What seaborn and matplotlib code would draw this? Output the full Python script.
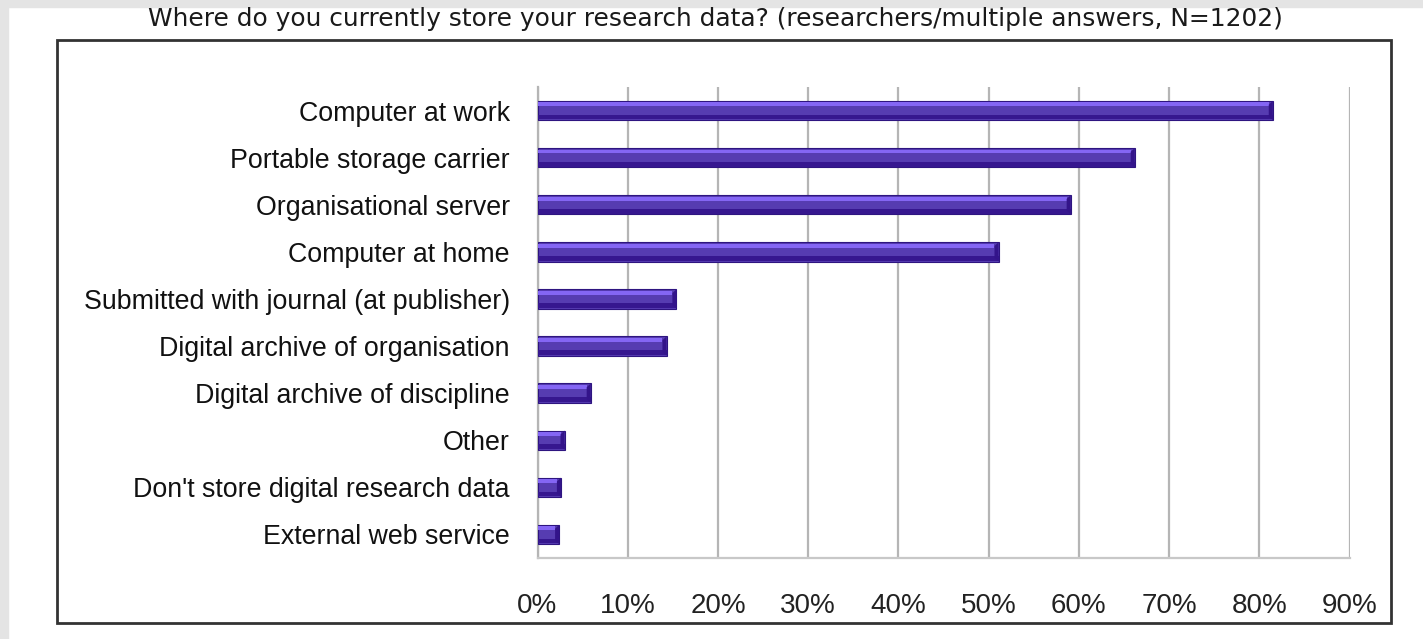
import matplotlib
matplotlib.use("Agg")
import matplotlib.pyplot as plt
from matplotlib.patches import Rectangle, Polygon
import seaborn as sns
import pandas as pd

# data (percent of researchers)
categories = [
    "Computer at work",
    "Portable storage carrier",
    "Organisational server",
    "Computer at home",
    "Submitted with journal (at publisher)",
    "Digital archive of organisation",
    "Digital archive of discipline",
    "Other",
    "Don't store digital research data",
    "External web service",
]
shares = [81.5, 66.2, 59.1, 51.1, 15.4, 14.3, 5.9, 3.0, 2.6, 2.4]
tick_values = [0, 10, 20, 30, 40, 50, 60, 70, 80, 90]
tick_labels = [f"{v}%" for v in tick_values]
title = "Where do you currently store your research data? (researchers/multiple answers, N=1202)"

df = pd.DataFrame({"where": categories, "share": shares})

sns.set_style("white")
plt.rcParams["font.family"] = ["Liberation Sans", "DejaVu Sans"]

W, H = 1423, 639
fig = plt.figure(figsize=(W / 100, H / 100), dpi=100)
fig.patch.set_facecolor("white")

# light grey page edges
fig.add_artist(Rectangle((0, 0), 8 / W, 1, transform=fig.transFigure, color="#e4e4e4", zorder=0))
fig.add_artist(Rectangle((0, 1 - 7 / H), 1, 7 / H, transform=fig.transFigure, color="#e4e4e4", zorder=0))

# outer frame
fig.add_artist(Rectangle((57 / W, 1 - 623 / H), (1391 - 57) / W, (623 - 40) / H,
                         transform=fig.transFigure, fill=False, ec="#333333", lw=2))

ax = fig.add_axes([537.5 / W, 1 - 558 / H, 812 / W, 471 / H])

sns.barplot(data=df, x="share", y="where", orient="h", color="#4b28c4",
            width=0.41, edgecolor="#2e1580", linewidth=0.8, ax=ax, zorder=3)

# fake the bevelled look with lighter/darker bands and a dark end cap
for p in list(ax.patches):
    x0, y0, w, h = p.get_x(), p.get_y(), p.get_width(), p.get_height()
    cap = min(0.45, w * 0.25)
    ax.add_patch(Rectangle((x0, y0 + 0.08 * h), w - cap, 0.2 * h, color="#8466f4", lw=0, zorder=4))
    ax.add_patch(Rectangle((x0, y0 + 0.72 * h), w, 0.24 * h, color="#36178f", lw=0, zorder=4))
    ax.add_patch(Polygon([(x0 + w - cap, y0 + 0.2 * h), (x0 + w, y0), (x0 + w, y0 + h),
                          (x0 + w - cap, y0 + 0.8 * h)], closed=True, color="#33148a", lw=0, zorder=5))

ax.set_xlim(0, 90)
ax.set_ylim(len(categories) - 0.5, -0.5)
ax.set_xticks(tick_values)
ax.set_xticklabels(tick_labels)
ax.set_xlabel("")
ax.set_ylabel("")
ax.grid(axis="x", color="#b5b5b5", lw=1.6, zorder=1)
ax.set_axisbelow(True)

for s in ["top", "right"]:
    ax.spines[s].set_visible(False)
ax.spines["left"].set_color("#b5b5b5")
ax.spines["left"].set_linewidth(1.6)
ax.spines["bottom"].set_color("#c8c8c8")
ax.spines["bottom"].set_linewidth(1.6)

ax.tick_params(axis="y", length=0, pad=20, labelsize=19.3, labelcolor="#111111")
ax.tick_params(axis="x", length=0, pad=25, labelsize=20, labelcolor="#222222")

fig.text(715 / W, 1 - 19 / H, title, ha="center", va="center",
         family="DejaVu Sans", fontsize=17.9, color="#1a1a1a")

fig.savefig("out.png", dpi=100)
